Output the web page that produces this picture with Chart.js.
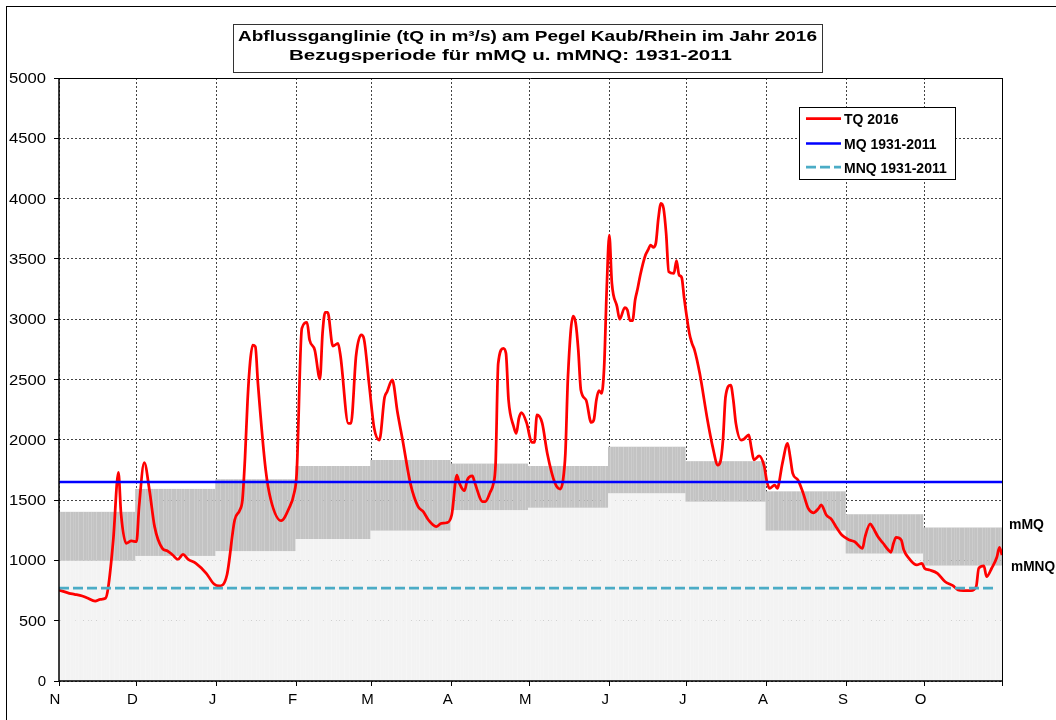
<!DOCTYPE html>
<html>
<head>
<meta charset="utf-8">
<script src="https://cdn.jsdelivr.net/npm/chart.js@4.4.1/dist/chart.umd.min.js"></script>
<style>
  html, body { margin: 0; padding: 0; background: #fff; }
  canvas { display: block; }
</style>
</head>
<body>
<canvas id="chart" width="1056" height="720"></canvas>
<script>
// --- Data (hydrological year Nov 2015 - Oct 2016, day 0 = 1 Nov) ---
const monthLabels = ['N', 'D', 'J', 'F', 'M', 'A', 'M', 'J', 'J', 'A', 'S', 'O'];
const monthStart = [0, 30, 61, 92, 121, 152, 182, 213, 243, 274, 305, 335];
const yearEnd = 365;

// monthly means of the reference period 1931-2011
const mMQ = [1400, 1590, 1670, 1780, 1830, 1800, 1780, 1940, 1820, 1570, 1380, 1270];
const mMNQ = [1000, 1040, 1080, 1180, 1250, 1420, 1440, 1560, 1490, 1250, 1060, 960];
const MQ = 1650;
const MNQ = 770;

const yMin = 0, yMax = 5000, yStep = 500;

// TQ 2016 (day, m³/s)
const tqDay = [
  0, 4, 6, 9, 11, 14, 16, 18, 19, 21, 23, 24, 26, 28, 30, 31, 33, 35, 37, 40,
  42, 44, 46, 48, 50, 53, 57, 60, 62, 65, 68, 70, 71, 72, 73, 74, 75, 76, 77, 80,
  82, 86, 89, 91, 92, 94, 96, 97, 99, 101, 102, 103, 104, 106, 108, 109, 112, 113, 115, 117,
  118, 120, 122, 124, 126, 127, 129, 131, 133, 136, 139, 141, 143, 146, 148, 150, 152, 154, 155, 157,
  158, 160, 161, 164, 165, 167, 168, 169, 170, 172, 173, 174, 176, 177, 178, 179, 181, 183, 184, 185,
  187, 189, 192, 194, 195, 196, 197, 199, 200, 201, 202, 204, 206, 207, 208, 209, 210, 211, 212, 213,
  214, 216, 217, 219, 220, 221, 222, 223, 224, 225, 227, 228, 229, 230, 231, 232, 233, 234, 235, 236,
  238, 239, 240, 241, 242, 244, 245, 246, 248, 251, 253, 255, 256, 257, 258, 260, 261, 262, 264, 265,
  267, 268, 269, 271, 273, 274, 275, 277, 278, 280, 282, 283, 284, 286, 288, 290, 292, 294, 295, 297,
  299, 301, 303, 306, 308, 311, 312, 314, 315, 317, 319, 321, 322, 323, 324, 326, 327, 329, 332, 334,
  335, 337, 340, 343, 346, 348, 350, 353, 355, 356, 358, 359, 361, 363, 364, 365
];
const tqValue = [
  755, 727, 719, 705, 688, 663, 677, 686, 769, 1169, 1730, 1390, 1142, 1161, 1155, 1445, 1810, 1584, 1280, 1100,
  1078, 1045, 1009, 1050, 1009, 976, 893, 804, 788, 879, 1335, 1418, 1501, 1850, 2330, 2650, 2786, 2772, 2468, 1750,
  1501, 1329, 1431, 1556, 1722, 2924, 2973, 2827, 2744, 2504, 2882, 3056, 3056, 2777, 2800, 2689, 2136, 2136, 2700, 2869,
  2840, 2468, 2095, 1998, 2350, 2399, 2496, 2230, 1998, 1639, 1445, 1404, 1335, 1280, 1307, 1312, 1376, 1708, 1639, 1578,
  1667, 1700, 1639, 1487, 1487, 1570, 1625, 1805, 2634, 2758, 2717, 2330, 2109, 2053, 2178, 2225, 2140, 1978, 1978, 2206,
  2140, 1887, 1639, 1592, 1653, 1887, 2523, 3026, 2966, 2744, 2413, 2330, 2144, 2164, 2330, 2407, 2385, 2600, 3250, 3698,
  3300, 3104, 3000, 3097, 3076, 2988, 2988, 3159, 3256, 3367, 3532, 3574, 3615, 3596, 3629, 3837, 3961, 3919, 3712, 3394,
  3380, 3485, 3367, 3347, 3173, 2882, 2800, 2744, 2551, 2164, 1943, 1791, 1819, 1998, 2357, 2454, 2330, 2136, 1998, 2004,
  2040, 1930, 1833, 1866, 1777, 1653, 1598, 1625, 1598, 1805, 1970, 1860, 1722, 1667, 1560, 1431, 1395, 1431, 1460, 1376,
  1340, 1270, 1210, 1169, 1155, 1100, 1196, 1302, 1274, 1196, 1142, 1086, 1067, 1142, 1191, 1169, 1086, 1017, 962, 976,
  935, 920, 893, 823, 790, 755, 749, 749, 782, 935, 954, 865, 935, 1026, 1109, 1045
];

const FONT = '"Liberation Sans", Arial, sans-serif';

// daily bars for the monthly band (mMNQ..mMQ) and the light part below it
const bandUpper = [];
const bandLower = [];
for (let d = 0; d <= yearEnd; d++) {
  const m = monthStart.filter(s => s <= d).length - 1;
  bandUpper.push({ x: d, y: [mMNQ[m], mMQ[m]] });
  bandLower.push({ x: d, y: [0, mMNQ[m]] });
}

// draw text squeezed/stretched to a given width
function fitText(ctx, text, x, y, font, width, align) {
  ctx.save();
  ctx.font = font;
  ctx.textBaseline = 'alphabetic';
  ctx.textAlign = 'left';
  const w = ctx.measureText(text).width;
  const sx = width ? width / w : 1;
  let left = x;
  if (align === 'center') left = x - (w * sx) / 2;
  if (align === 'right') left = x - w * sx;
  ctx.translate(left, y);
  ctx.scale(sx, 1);
  ctx.fillText(text, 0, 0);
  ctx.restore();
}

const decor = {
  id: 'decor',
  afterDatasetsDraw(chart) {
    const { ctx, chartArea: a } = chart;
    ctx.save();
    ctx.strokeStyle = '#000';
    ctx.lineWidth = 1;
    ctx.beginPath();
    ctx.moveTo(a.left, a.top + 0.5);
    ctx.lineTo(a.right, a.top + 0.5);
    ctx.moveTo(a.right + 0.5, a.top);
    ctx.lineTo(a.right + 0.5, a.bottom);
    ctx.stroke();
    ctx.lineWidth = 1.5;
    ctx.beginPath();
    ctx.moveTo(a.left, a.top);
    ctx.lineTo(a.left, a.bottom);
    ctx.lineTo(a.right + 1, a.bottom);
    ctx.stroke();
    ctx.restore();
  },
  afterDraw(chart) {
    const { ctx } = chart;
    const yScale = chart.scales.y;
    ctx.save();
    ctx.fillStyle = '#000';

    // y tick labels
    yScale.ticks.forEach(t => {
      const py = yScale.getPixelForValue(t.value);
      fitText(ctx, String(t.value), 46, py + 5, '15px ' + FONT, t.value === 0 ? 0 : t.value < 1000 ? 27 : 37, 'right');
    });

    // title box
    ctx.fillStyle = '#fff';
    ctx.fillRect(233.5, 24.5, 589, 48);
    ctx.strokeStyle = '#333';
    ctx.lineWidth = 1;
    ctx.strokeRect(233.5, 24.5, 589, 48);
    ctx.fillStyle = '#000';
    fitText(ctx, 'Abflussganglinie (tQ in m³/s) am Pegel Kaub/Rhein im Jahr 2016', 527.5, 41, 'bold 14px ' + FONT, 579, 'center');
    fitText(ctx, 'Bezugsperiode für mMQ u. mMNQ: 1931-2011', 510.5, 59.5, 'bold 14px ' + FONT, 443, 'center');

    // legend
    ctx.fillStyle = '#fff';
    ctx.fillRect(799.5, 107.5, 156, 72);
    ctx.strokeStyle = '#000';
    ctx.strokeRect(799.5, 107.5, 156, 72);
    const rows = [118.5, 143.5, 167];
    [0, 1, 2].forEach(i => {
      const ds = chart.data.datasets[i];
      ctx.save();
      ctx.strokeStyle = ds.borderColor;
      ctx.lineWidth = ds.borderWidth;
      ctx.setLineDash(ds.borderDash || []);
      ctx.beginPath();
      ctx.moveTo(806, rows[i]);
      ctx.lineTo(841, rows[i]);
      ctx.stroke();
      ctx.restore();
      ctx.fillStyle = '#000';
      fitText(ctx, ds.label, 844, rows[i] + 5.5, 'bold 14px ' + FONT, 0, 'left');
    });

    // band labels
    fitText(ctx, 'mMQ', 1009, 529, 'bold 14px ' + FONT, 35, 'left');
    fitText(ctx, 'mMNQ', 1011, 570.5, 'bold 14px ' + FONT, 44, 'left');

    // outer frame
    ctx.strokeStyle = '#000';
    ctx.lineWidth = 1;
    ctx.strokeRect(6.5, 6.5, 1100, 800);
    ctx.restore();
  }
};

const gridStyle = {
  color: '#444',
  lineWidth: 1,
  tickLength: 5,
  tickColor: '#000',
  tickBorderDash: [],
  offset: false
};

new Chart(document.getElementById('chart'), {
  type: 'line',
  data: {
    datasets: [
      {
        label: 'TQ 2016',
        data: tqDay.map((d, i) => ({ x: d, y: tqValue[i] })),
        borderColor: '#ff0000',
        borderWidth: 2.75,
        pointRadius: 0,
        cubicInterpolationMode: 'monotone',
        order: 2
      },
      {
        label: 'MQ 1931-2011',
        data: [{ x: 0, y: MQ }, { x: yearEnd, y: MQ }],
        borderColor: '#0000ff',
        borderWidth: 2.5,
        pointRadius: 0,
        order: 1
      },
      {
        label: 'MNQ 1931-2011',
        data: [{ x: 0, y: MNQ }, { x: yearEnd - 2, y: MNQ }],
        borderColor: '#4bacc6',
        borderWidth: 2.75,
        borderDash: [10, 4],
        pointRadius: 0,
        order: 1
      },
      {
        label: 'mMQ',
        type: 'bar',
        data: bandUpper,
        backgroundColor: '#c3c3c3',
        barThickness: 2,
        grouped: false,
        order: 3
      },
      {
        label: 'mMNQ',
        type: 'bar',
        data: bandLower,
        backgroundColor: '#f3f3f3',
        barThickness: 2,
        grouped: false,
        order: 4
      }
    ]
  },
  options: {
    responsive: false,
    animation: false,
    devicePixelRatio: 1,
    layout: { padding: { top: 78, right: 54, left: 0, bottom: 0 } },
    plugins: { legend: { display: false }, tooltip: { enabled: false } },
    scales: {
      x: {
        type: 'linear',
        min: 0,
        max: yearEnd,
        offset: false,
        afterBuildTicks: s => { s.ticks = monthStart.concat([yearEnd]).map(v => ({ value: v })); },
        afterFit: s => { s.height = 39; },
        ticks: {
          autoSkip: false,
          maxRotation: 0,
          callback: (v, i) => monthLabels[i] || '',
          font: { family: FONT, size: 15 },
          color: '#000',
          labelOffset: -4,
          padding: 5
        },
        grid: gridStyle,
        border: { display: false, dash: [2, 2] }
      },
      y: {
        min: yMin,
        max: yMax,
        afterFit: s => { s.width = 59; },
        ticks: { stepSize: yStep, color: 'rgba(0,0,0,0)', font: { family: FONT, size: 15 } },
        grid: gridStyle,
        border: { display: false, dash: [2, 2] }
      }
    }
  },
  plugins: [decor]
});
</script>
</body>
</html>
